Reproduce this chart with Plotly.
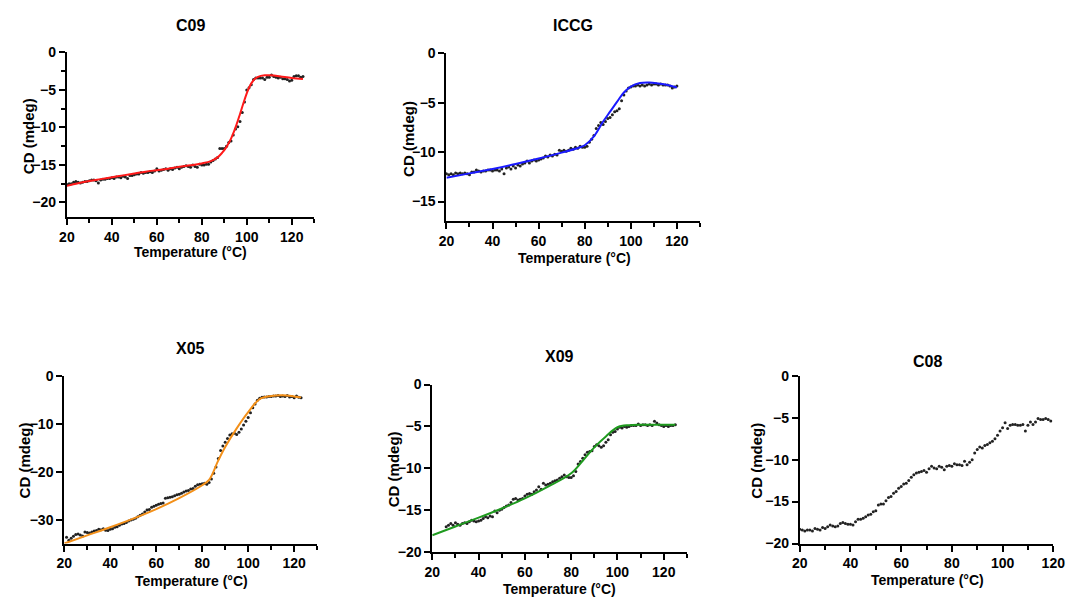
import plotly.graph_objects as go

W, H = 1080, 608

# ---------------- data ----------------
c09_t = list(range(20, 126))
c09_cd = [-17.6, -17.5, -17.5, -17.3, -17.2, -17.3, -17.4, -17.3, -17.2, -17.2,
          -17.1, -17.0, -17.0, -17.1, -17.4, -17.0, -16.9, -16.9, -16.8, -16.8,
          -16.7, -16.8, -16.6, -16.6, -16.7, -16.5, -16.6, -16.8, -16.4, -16.4,
          -16.3, -16.2, -16.2, -16.0, -16.1, -16.0, -16.0, -15.9, -16.0, -15.8,
          -15.5, -15.8, -15.7, -15.6, -15.5, -15.7, -15.5, -15.6, -15.4, -15.3,
          -15.5, -15.3, -15.2, -15.1, -15.2, -15.3, -15.0, -15.2, -15.3, -14.9,
          -15.0, -15.0, -14.9, -14.9, -14.6, -14.4, -14.2, -14.0, -12.8, -12.8,
          -12.8, -12.5, -12.0, -11.8, -11.0, -10.2, -9.9, -9.2, -8.0, -6.6,
          -5.0, -4.7, -4.3, -3.6, -3.4, -3.4, -3.4, -3.4, -3.6, -3.3,
          -3.3, -3.0, -3.2, -3.3, -3.4, -3.3, -3.5, -3.5, -3.6, -3.8,
          -3.7, -3.2, -3.1, -3.1, -3.3, -3.2]
c09_fit_t = [20, 25, 30, 35, 40, 45, 50, 55, 60, 65, 70, 75, 80, 84, 87, 89, 91, 93,
             95, 97, 99, 101, 103, 105, 108, 111, 115, 120, 125]
c09_fit = [-17.8, -17.45, -17.15, -16.9, -16.65, -16.4, -16.15, -15.9, -15.7, -15.5,
           -15.25, -15.05, -14.8, -14.5, -14.0, -13.4, -12.6, -11.5, -10.0, -8.2,
           -6.3, -4.7, -3.7, -3.25, -3.05, -3.05, -3.2, -3.4, -3.55]

iccg_t = list(range(20, 121))
iccg_cd = [-12.2, -12.3, -12.2, -12.3, -12.1, -12.2, -12.1, -12.2, -12.1, -12.2,
           -12.3, -12.0, -12.0, -11.8, -11.9, -12.0, -11.9, -11.9, -11.8, -11.8,
           -11.9, -11.8, -11.8, -11.9, -11.7, -12.2, -11.6, -11.5, -11.7, -11.4,
           -11.6, -11.3, -11.4, -11.2, -11.1, -10.9, -11.1, -10.9, -10.8, -10.9,
           -10.8, -10.7, -10.6, -10.4, -10.5, -10.3, -10.4, -10.2, -10.3, -9.8,
           -9.9, -9.8, -9.9, -9.8, -9.6, -9.7, -9.5, -9.6, -9.4, -9.5,
           -9.5, -9.4, -9.0, -8.7, -8.3, -7.6, -7.3, -7.0, -7.2, -6.9,
           -6.6, -6.5, -6.2, -5.9, -5.8, -5.6, -4.8, -4.2, -3.8, -3.5,
           -3.4, -3.3, -3.3, -3.2, -3.3, -3.2, -3.3, -3.2, -3.1, -3.2,
           -3.1, -3.1, -3.2, -3.1, -3.2, -3.2, -3.2, -3.3, -3.5, -3.4,
           -3.3]
iccg_fit_t = [20, 30, 40, 50, 60, 70, 78, 80, 84, 88, 91, 94, 97, 100, 104, 108, 112, 116, 120]
iccg_fit = [-12.6, -12.15, -11.7, -11.2, -10.65, -10.05, -9.5, -9.3, -8.4, -6.9,
            -5.9, -4.9, -3.95, -3.35, -3.0, -2.95, -3.05, -3.2, -3.45]

x05_t = list(range(21, 124))
x05_cd = [-33.7, -34.3, -33.9, -33.5, -33.1, -33.0, -33.2, -33.4, -32.6, -32.7,
          -32.8, -32.6, -32.4, -32.3, -32.0, -32.1, -31.9, -32.2, -32.3, -32.0,
          -31.9, -31.6, -31.5, -31.2, -30.9, -30.8, -30.6, -30.3, -30.1, -29.9,
          -29.7, -29.4, -29.1, -28.8, -28.4, -28.0, -27.9, -27.4, -27.2, -27.0,
          -26.8, -26.6, -26.5, -25.5, -25.4, -25.3, -25.2, -25.0, -24.8, -24.7,
          -24.5, -24.2, -24.0, -23.9, -23.6, -23.5, -23.0, -22.7, -22.6, -22.5,
          -22.4, -22.6, -22.2, -21.5, -20.3, -19.0, -17.2, -15.5, -14.6, -13.8,
          -13.0, -12.3, -12.0, -11.9, -12.2, -11.7, -11.0, -10.2, -9.4, -8.6,
          -7.6, -6.6, -5.8, -5.0, -4.6, -4.4, -4.3, -4.3, -4.2, -4.2,
          -4.1, -4.1, -4.0, -4.2, -4.1, -4.2, -4.0, -4.3, -4.2, -4.5,
          -4.1, -4.4, -4.5]
x05_fit_t = [20, 30, 40, 50, 60, 70, 80, 83, 87, 90, 95, 100, 105, 110, 115, 120, 123]
x05_fit = [-35.0, -33.3, -31.6, -29.8, -27.8, -25.5, -22.8, -21.7, -17.6, -14.8,
           -10.9, -7.5, -4.75, -4.1, -3.95, -4.2, -4.4]

x09_t = list(range(26, 126))
x09_cd = [-17.0, -16.8, -16.6, -16.8, -16.5, -16.7, -16.8, -16.6, -16.5, -16.6,
          -16.4, -16.2, -16.3, -16.4, -16.3, -16.2, -16.0, -15.8, -15.9, -15.7,
          -15.8, -15.1, -15.3, -15.0, -14.9, -14.7, -14.5, -14.4, -14.1, -13.7,
          -13.6, -13.8, -13.7, -13.6, -13.3, -13.1, -13.0, -13.1, -12.8, -12.6,
          -12.2, -12.5, -11.8, -12.0, -11.9, -11.8, -11.6, -11.5, -11.4, -11.2,
          -11.0, -10.8, -11.0, -11.1, -11.1, -10.9, -10.4, -9.5, -9.2, -8.8,
          -8.4, -8.1, -8.0, -7.9, -7.4, -7.2, -7.3, -7.5, -7.3, -6.9,
          -6.6, -6.0, -5.7, -5.6, -5.3, -5.1, -5.2, -5.0, -5.1, -5.0,
          -4.9, -4.9, -4.9, -4.7, -4.9, -4.8, -4.8, -4.9, -4.8, -4.9,
          -4.4, -4.6, -4.8, -4.9, -5.0, -4.9, -5.0, -4.9, -4.9, -4.8]
x09_fit_t = [20, 30, 40, 50, 60, 70, 80, 85, 90, 95, 100, 105, 110, 115, 120, 125]
x09_fit = [-18.0, -16.95, -15.9, -14.8, -13.6, -12.2, -10.6, -9.1, -7.5, -6.2,
           -5.1, -4.85, -4.8, -4.8, -4.8, -4.8]

c08_t = list(range(20, 120))
c08_cd = [-18.3, -18.4, -18.5, -18.4, -18.4, -18.5, -18.2, -18.3, -18.4, -18.1,
          -18.2, -18.0, -17.8, -17.9, -18.0, -17.9, -17.6, -17.5, -17.6, -17.7,
          -17.7, -17.8, -17.4, -17.1, -17.1, -17.0, -16.8, -16.6, -16.5, -16.2,
          -16.1, -15.4, -15.3, -15.3, -14.9, -14.5, -14.4, -14.0, -13.8, -13.4,
          -13.2, -12.9, -12.8, -12.5, -12.1, -11.8, -11.6, -11.5, -11.4, -11.3,
          -11.5, -11.1, -10.8, -11.0, -11.1, -10.8, -10.9, -11.2, -10.8, -10.7,
          -10.8, -10.5, -10.6, -10.6, -10.7, -10.2, -10.6, -10.3, -10.0, -9.2,
          -8.8, -8.5, -8.6, -8.3, -8.2, -8.0, -7.8, -7.5, -7.1, -6.6,
          -6.2, -5.6, -6.3, -5.9, -5.8, -5.8, -5.9, -5.9, -5.8, -6.6,
          -5.9, -5.5, -5.8, -5.5, -5.1, -5.2, -5.2, -5.1, -5.2, -5.4]

panels = [
    # name, t, cd, fit_t, fit, color, x-range, y-range
    ("C09", c09_t, c09_cd, c09_fit_t, c09_fit, "#ff1a1a", [20, 130], [-22, 0]),
    ("ICCG", iccg_t, iccg_cd, iccg_fit_t, iccg_fit, "#1a1aff", [20, 130], [-17, 0]),
    ("X05", x05_t, x05_cd, x05_fit_t, x05_fit, "#f39019", [20, 130], [-35, 0]),
    ("X09", x09_t, x09_cd, x09_fit_t, x09_fit, "#1f9a1f", [20, 130], [-20, 0]),
    ("C08", c08_t, c08_cd, None, None, None, [20, 120], [-20, 0]),
]
y_dticks = [5, 5, 10, 5, 5]
y_minor = [[-2.5, -7.5, -12.5, -17.5], None, None, None, None]

# pixel boxes (left, top, right, bottom) of each plot area
boxes = [(60, 45.7, 312, 215), (446.7, 46.7, 705, 219), (57.3, 378.3, 315, 550),
         (432.3, 386.7, 691.7, 558.7), (806.7, 377.7, 1065, 550)]
title_pos = [(186, 18), (576, 18), (186, 350), (562, 358), (937, 363)]
xtitle_pos = [(186, 251), (577, 257), (187, 588), (562, 597), (937, 587)]
ytitle_pos = [(21, 132), (408, 134), (17, 465), (393, 474), (763, 465)]

FONT = "Liberation Sans, Arial, sans-serif"
fig = go.Figure()
annotations = []
layout = {}
for i, (name, t, cd, ft, fv, col, xr, yr) in enumerate(panels):
    n = "" if i == 0 else str(i + 1)
    xa, ya = "x" + n, "y" + n
    fig.add_trace(go.Scatter(x=t, y=cd, mode="markers", xaxis=xa, yaxis=ya,
                             marker=dict(size=3, color="#222222"), showlegend=False,
                             cliponaxis=False))
    if ft is not None:
        fig.add_trace(go.Scatter(x=ft, y=fv, mode="lines", xaxis=xa, yaxis=ya,
                                 line=dict(color=col, width=2, shape="spline",
                                           smoothing=1.0),
                                 showlegend=False))
    l, tp, r, b = boxes[i]
    layout["xaxis" + n] = dict(
        domain=[l / W, r / W], range=xr, anchor=ya, showgrid=False, zeroline=False,
        showline=True, linecolor="black", linewidth=2, ticks="outside", ticklen=6,
        tickwidth=2, tickcolor="black", tickvals=list(range(20, 121, 20)),
        minor=dict(ticks="outside", ticklen=4, tickwidth=2, tickcolor="black",
                   tickvals=list(range(30, xr[1] + 1, 20))),
        tickfont=dict(family=FONT, size=14, color="black", weight="bold"),
        fixedrange=True)
    ytick_vals = list(range(0, yr[0] - 1, -y_dticks[i]))
    yax = dict(
        domain=[1 - b / H, 1 - tp / H], range=yr, anchor=xa, showgrid=False,
        zeroline=False, showline=True, linecolor="black", linewidth=2,
        ticks="outside", ticklen=6, tickwidth=2, tickcolor="black",
        tickvals=ytick_vals,
        tickfont=dict(family=FONT, size=14, color="black", weight="bold"),
        fixedrange=True)
    if y_minor[i]:
        yax["minor"] = dict(ticks="outside", ticklen=4, tickwidth=2, tickcolor="black",
                            tickvals=y_minor[i])
    layout["yaxis" + n] = yax

    tx, ty = title_pos[i]
    annotations.append(dict(text=name, x=tx / W, y=1 - ty / H, xref="paper", yref="paper",
                            showarrow=False, xanchor="center", yanchor="middle",
                            font=dict(family=FONT, size=16, color="black", weight="bold")))
    tx, ty = xtitle_pos[i]
    annotations.append(dict(text="Temperature (°C)", x=tx / W, y=1 - ty / H, xref="paper",
                            yref="paper", showarrow=False, xanchor="center", yanchor="middle",
                            font=dict(family=FONT, size=14, color="black", weight="bold")))
    tx, ty = ytitle_pos[i]
    annotations.append(dict(text="CD (mdeg)", x=tx / W, y=1 - ty / H, xref="paper",
                            yref="paper", showarrow=False, xanchor="center", yanchor="middle",
                            textangle=-90,
                            font=dict(family=FONT, size=15, color="black", weight="bold")))

fig.update_layout(width=W, height=H, margin=dict(l=0, r=0, t=0, b=0),
                  paper_bgcolor="white", plot_bgcolor="white",
                  annotations=annotations, **layout)
fig.write_html("out.html")
